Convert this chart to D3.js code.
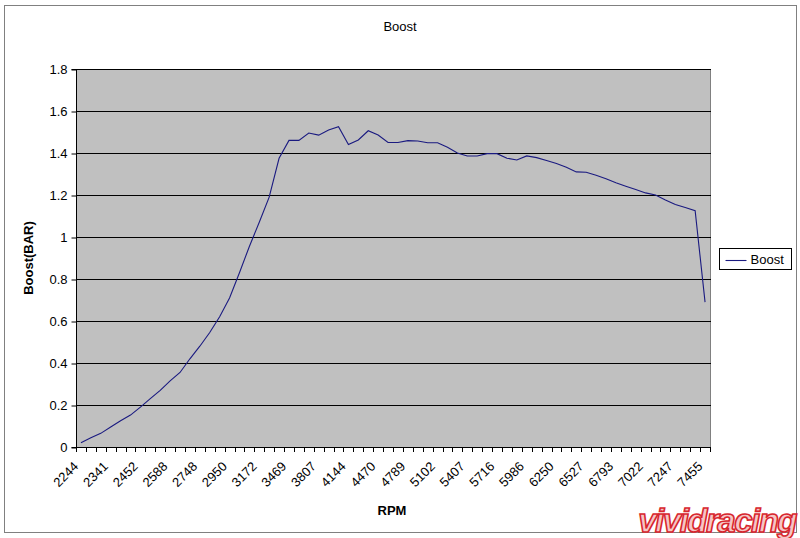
<!DOCTYPE html>
<html>
<head>
<meta charset="utf-8">
<script src="https://cdn.jsdelivr.net/npm/d3@7"></script>
<style>
  body { margin: 0; background: #fff; }
  svg { display: block; font-family: "Liberation Sans", Arial, sans-serif; }
</style>
</head>
<body>
<svg id="chart" width="800" height="538"></svg>
<script>
// ---- data ----
const rpm = [2244, 2275, 2307, 2341, 2378, 2414, 2452, 2497, 2541, 2588, 2641, 2693, 2748, 2815, 2881, 2950,
  3024, 3097, 3172, 3271, 3370, 3469, 3582, 3694, 3807, 3919, 4031, 4144, 4253, 4361, 4470, 4577,
  4683, 4789, 4893, 4998, 5102, 5204, 5305, 5407, 5510, 5613, 5716, 5806, 5896, 5986, 6074, 6162,
  6250, 6342, 6435, 6527, 6616, 6704, 6793, 6869, 6946, 7022, 7097, 7172, 7247, 7316, 7386, 7455];
const boost = [0.02, 0.044, 0.065, 0.095, 0.125, 0.152, 0.19, 0.23, 0.27, 0.315, 0.355, 0.42, 0.48, 0.545, 0.62, 0.71,
  0.83, 0.955, 1.07, 1.19, 1.375, 1.46, 1.46, 1.495, 1.485, 1.51, 1.525, 1.44, 1.462, 1.506, 1.486, 1.45,
  1.45, 1.459, 1.457, 1.449, 1.449, 1.427, 1.40, 1.386, 1.386, 1.397, 1.397, 1.375, 1.367, 1.386, 1.378, 1.364,
  1.35, 1.332, 1.31, 1.308, 1.294, 1.277, 1.258, 1.242, 1.226, 1.21, 1.2, 1.176, 1.155, 1.14, 1.125, 0.69];
const yTicks = [0, 0.2, 0.4, 0.6, 0.8, 1, 1.2, 1.4, 1.6, 1.8];
const labelEvery = 3;
const seriesName = "Boost";
const chartTitle = "Boost";
const xTitle = "RPM";
const yTitle = "Boost(BAR)";

// ---- layout ----
const svg = d3.select("#chart");
const plot = { left: 76, top: 69, right: 710, bottom: 447 };

const x = d3.scaleBand().domain(d3.range(rpm.length)).range([plot.left, plot.right]).padding(0);
const y = d3.scaleLinear().domain([0, 1.8]).range([plot.bottom, plot.top]);

// outer chart border
svg.append("rect").attr("x", 4.5).attr("y", 5.5).attr("width", 792).attr("height", 527)
  .attr("fill", "#fff").attr("stroke", "#808080").attr("stroke-width", 1);

// plot area
svg.append("rect").attr("x", plot.left + 0.5).attr("y", plot.top + 0.5)
  .attr("width", plot.right - plot.left).attr("height", plot.bottom - plot.top)
  .attr("fill", "#c0c0c0").attr("stroke", "#808080");

// gridlines
svg.append("g").selectAll("line").data(yTicks.filter(d => d > 0)).join("line")
  .attr("x1", plot.left).attr("x2", plot.right + 1)
  .attr("y1", d => Math.round(y(d)) + 0.5).attr("y2", d => Math.round(y(d)) + 0.5)
  .attr("stroke", "#000").attr("stroke-width", 1);

// y axis
const yAxis = d3.axisLeft(y).tickValues(yTicks).tickSize(5).tickPadding(4)
  .tickFormat(d => d3.format("")(Math.round(d * 10) / 10));
const yg = svg.append("g").attr("transform", `translate(${plot.left + 0.5},0.5)`).call(yAxis);
yg.select(".domain").attr("stroke", "#000").attr("d", `M-5,${y(1.8)}H0V${y(0)}H-5`);
yg.selectAll(".tick line").attr("stroke", "#000");
yg.selectAll(".tick text").attr("font-size", 13).attr("fill", "#000")
  .attr("font-family", "Liberation Sans, Arial, sans-serif");

// x axis line + ticks at category boundaries
const bounds = d3.range(rpm.length + 1).map(i => plot.left + i * x.bandwidth());
svg.append("line").attr("x1", plot.left).attr("x2", plot.right + 1)
  .attr("y1", plot.bottom + 0.5).attr("y2", plot.bottom + 0.5).attr("stroke", "#000");
svg.append("g").selectAll("line").data(bounds).join("line")
  .attr("x1", d => Math.round(d) + 0.5).attr("x2", d => Math.round(d) + 0.5)
  .attr("y1", plot.bottom).attr("y2", plot.bottom + 5)
  .attr("stroke", "#000");

// x labels
svg.append("g").selectAll("text")
  .data(d3.range(rpm.length).filter(i => i % labelEvery === 0))
  .join("text")
  .attr("transform", i => `translate(${x(i) + x.bandwidth() / 2 - 5},${plot.bottom + 17}) rotate(-45)`)
  .attr("text-anchor", "end").attr("dy", "0.35em")
  .attr("font-size", 13).attr("fill", "#000")
  .text(i => rpm[i]);

// line
const line = d3.line().x((d, i) => x(i) + x.bandwidth() / 2).y(d => y(d));
svg.append("path").datum(boost).attr("d", line)
  .attr("fill", "none").attr("stroke", "#1a1a80").attr("stroke-width", 1.1);

// titles
svg.append("text").attr("x", 400).attr("y", 31).attr("text-anchor", "middle")
  .attr("font-size", 13).attr("fill", "#000").text(chartTitle);
svg.append("text").attr("x", 392).attr("y", 515).attr("text-anchor", "middle")
  .attr("font-size", 13).attr("font-weight", "bold").attr("fill", "#000").text(xTitle);
svg.append("text").attr("transform", `translate(33,${(plot.top + plot.bottom) / 2}) rotate(-90)`)
  .attr("text-anchor", "middle").attr("font-size", 13).attr("font-weight", "bold")
  .attr("fill", "#000").text(yTitle);

// legend
const lg = svg.append("g").attr("transform", "translate(719.5,248.5)");
lg.append("rect").attr("width", 72).attr("height", 21).attr("fill", "#fff").attr("stroke", "#000");
lg.append("line").attr("x1", 6).attr("x2", 27).attr("y1", 12).attr("y2", 12)
  .attr("stroke", "#1a1a80").attr("stroke-width", 1.1);
lg.append("text").attr("x", 31).attr("y", 15.5).attr("font-size", 13).attr("fill", "#000").text(seriesName);

// watermark
svg.append("text").attr("x", 796).attr("y", 532).attr("text-anchor", "end")
  .attr("font-size", 33).attr("font-weight", "bold").attr("font-style", "italic")
  .attr("font-family", "Liberation Sans, Arial, sans-serif")
  .attr("fill", "#f5c6c6").attr("stroke", "#d8262e").attr("stroke-width", 1.6)
  .attr("letter-spacing", -1.5).text("vividracing");
</script>
</body>
</html>
